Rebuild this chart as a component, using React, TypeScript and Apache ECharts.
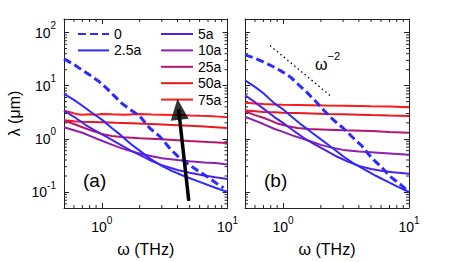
import React, { useEffect, useRef } from 'react';
import * as echarts from 'echarts';

const FONT = '"Liberation Sans", Arial, Helvetica, sans-serif';

const seriesNames = ['0', '2.5a', '5a', '10a', '25a', '50a', '75a'];
const seriesColors = ['#2b2bff', '#2b2bff', '#5020e8', '#8c20b0', '#b5156c', '#ea1620', '#ff1a1a'];

// ---------- panel (a) ----------
const omegaA0 = [0.5, 0.6, 0.7, 0.8, 0.95, 1.1, 1.25, 1.45, 1.7, 2.0, 2.4, 2.9, 3.5, 4.1, 5, 6, 7, 8.2, 9.3];
const lambdaA0 = [32, 25, 19.5, 16, 12, 8.8, 6.5, 4.6, 3.5, 2.7, 1.6, 1.1, 0.65, 0.45, 0.32, 0.24, 0.19, 0.145, 0.12];
const omegaA25 = [0.5, 0.6, 0.7, 0.85, 1.0, 1.2, 1.4, 1.7, 2.0, 2.4, 3.0, 3.6, 4.5, 6, 8, 10];
const lambdaA25 = [7.0, 5.4, 4.2, 3.0, 2.3, 1.6, 1.2, 0.8, 0.6, 0.43, 0.31, 0.25, 0.2, 0.155, 0.12, 0.1];
const omegaA5 = [0.5, 0.6, 0.75, 0.9, 1.1, 1.4, 1.7, 2, 2.5, 3, 4, 5, 6.5, 8, 10];
const lambdaA5 = [3.4, 2.6, 1.8, 1.4, 1.08, 0.78, 0.6, 0.5, 0.38, 0.32, 0.26, 0.23, 0.205, 0.19, 0.176];
const omegaA10 = [0.5, 0.6, 0.7, 0.85, 1, 1.2, 1.5, 2, 2.5, 3, 4, 5, 6.5, 8, 10];
const lambdaA10 = [1.65, 1.45, 1.3, 1.08, 0.92, 0.78, 0.64, 0.53, 0.47, 0.43, 0.4, 0.38, 0.36, 0.35, 0.33];
const omegaA25a = [0.5, 0.6, 0.7, 0.85, 1, 1.2, 1.5, 2, 3, 4, 5, 7, 10];
const lambdaA25a = [2.2, 1.9, 1.65, 1.4, 1.24, 1.13, 1.07, 1.03, 0.98, 0.94, 0.91, 0.87, 0.84];
const omegaA50 = [0.5, 0.6, 0.7, 0.85, 1, 1.3, 1.7, 2.2, 3, 4, 5, 6.5, 8, 10];
const lambdaA50 = [2.25, 2.15, 2.1, 2.08, 2.05, 2.0, 1.97, 1.92, 1.86, 1.8, 1.76, 1.7, 1.65, 1.6];
const omegaA75 = [0.5, 0.55, 0.62, 0.7, 0.8, 0.9, 1, 1.2, 1.5, 2, 2.5, 3, 4, 5, 6, 7, 8.5, 10];
const lambdaA75 = [3.4, 3.2, 2.95, 2.85, 2.9, 2.85, 2.95, 2.9, 2.85, 2.95, 2.88, 2.85, 2.8, 2.75, 2.72, 2.7, 2.62, 2.55];

// ---------- panel (b) ----------
const omegaB0 = [0.5, 0.6, 0.7, 0.85, 1.0, 1.15, 1.3, 1.55, 1.8, 2.1, 2.5, 3, 3.6, 4.2, 5, 6, 7, 8.5, 10];
const lambdaB0 = [38, 33, 28, 22.5, 18, 14.5, 11, 7.5, 5.2, 3.5, 2.3, 1.6, 1.05, 0.75, 0.45, 0.3, 0.2, 0.14, 0.1];
const omegaB25 = [0.5, 0.6, 0.7, 0.85, 1.0, 1.2, 1.4, 1.7, 2, 2.5, 3, 3.6, 4.5, 5.5, 7, 8.5, 10];
const lambdaB25 = [12.6, 9.5, 7.2, 4.7, 3.6, 2.5, 1.85, 1.3, 0.98, 0.66, 0.47, 0.35, 0.26, 0.2, 0.15, 0.12, 0.1];
const omegaB5 = [0.5, 0.6, 0.7, 0.85, 1, 1.2, 1.5, 1.8, 2.2, 2.7, 3.3, 4, 5, 6, 7.5, 10];
const lambdaB5 = [6.6, 4.9, 3.7, 2.6, 2.0, 1.45, 1.0, 0.78, 0.6, 0.46, 0.37, 0.31, 0.27, 0.25, 0.235, 0.22];
const omegaB10 = [0.5, 0.6, 0.7, 0.85, 1, 1.2, 1.5, 2, 2.5, 3, 4, 5, 7, 10];
const lambdaB10 = [2.6, 2.2, 1.9, 1.55, 1.35, 1.15, 0.97, 0.77, 0.67, 0.62, 0.58, 0.56, 0.53, 0.5];
const omegaB25a = [0.5, 0.6, 0.7, 0.8, 0.9, 1.1, 1.3, 1.6, 2, 3, 5, 7, 10];
const lambdaB25a = [3.3, 2.8, 2.5, 2.2, 1.95, 1.72, 1.6, 1.53, 1.5, 1.45, 1.4, 1.35, 1.3];
const omegaB50 = [0.5, 0.6, 0.7, 0.85, 1, 1.3, 1.7, 2.2, 3, 4, 5, 7, 10];
const lambdaB50 = [3.4, 3.3, 3.2, 3.15, 3.1, 3.05, 3.0, 2.95, 2.9, 2.85, 2.8, 2.75, 2.7];
const omegaB75 = [0.5, 0.6, 0.7, 0.85, 1, 1.3, 1.7, 2.2, 3, 4, 5, 7, 10];
const lambdaB75 = [4.8, 4.65, 4.55, 4.45, 4.4, 4.35, 4.3, 4.25, 4.2, 4.15, 4.1, 4.05, 3.95];

// guide line omega^-2 in (b), arrow in (a)
const guideOmega = [0.79, 2.37];
const guideLambda = [57, 6.5];
const arrowOmega = [4.92, 4.08];
const arrowLambda = [0.068, 3.6];

// axes
const xMin = 0.5, xMax = 10, yMin = 0.05, yMax = 180;
const xMinorTicks = [0.6, 0.7, 0.8, 0.9, 2, 3, 4, 5, 6, 7, 8, 9];
const yMinorTicks = [0.06, 0.07, 0.08, 0.09, 0.2, 0.3, 0.4, 0.5, 0.6, 0.7, 0.8, 0.9, 2, 3, 4, 5, 6, 7, 8, 9, 20, 30, 40, 50, 60, 70, 80, 90];

const panelA = [
  [omegaA0, lambdaA0], [omegaA25, lambdaA25], [omegaA5, lambdaA5], [omegaA10, lambdaA10],
  [omegaA25a, lambdaA25a], [omegaA50, lambdaA50], [omegaA75, lambdaA75],
];
const panelB = [
  [omegaB0, lambdaB0], [omegaB25, lambdaB25], [omegaB5, lambdaB5], [omegaB10, lambdaB10],
  [omegaB25a, lambdaB25a], [omegaB50, lambdaB50], [omegaB75, lambdaB75],
];

const zip = (xs: number[], ys: number[]) => xs.map((x, i) => [x, ys[i]]);

const powLabel = (v: number) => {
  const l = Math.log10(v);
  const r = Math.round(l);
  if (Math.abs(l - r) > 1e-6) return '';
  return `{b|10}{s|${r}}`;
};

const rich = {
  b: { fontSize: 14, lineHeight: 19, verticalAlign: 'bottom', fontFamily: FONT, color: '#000' },
  s: { fontSize: 10, lineHeight: 10, verticalAlign: 'top', fontFamily: FONT, color: '#000' },
};

const AX = '#222';

function xAxis(gridIndex: number, position: string, labels: boolean) {
  return {
    type: 'log', logBase: 10, min: xMin, max: xMax, gridIndex, position,
    axisLine: { show: true, onZero: false, lineStyle: { color: AX, width: 1 } },
    axisTick: { show: true, inside: true, length: 5, lineStyle: { color: AX, width: 1 } },
    minorTick: { show: false },
    splitLine: { show: false },
    axisLabel: labels
      ? { show: true, formatter: powLabel, rich, margin: 7, showMinLabel: false }
      : { show: false },
    name: labels ? 'ω (THz)' : '',
    nameLocation: 'middle',
    nameGap: 33,
    nameTextStyle: { fontSize: 16, fontFamily: FONT, color: '#000' },
  };
}

function yAxis(gridIndex: number, position: string, labels: boolean, title: boolean) {
  return {
    type: 'log', logBase: 10, min: yMin, max: yMax, gridIndex, position,
    axisLine: { show: true, onZero: false, lineStyle: { color: AX, width: 1 } },
    axisTick: { show: true, inside: true, length: 5, lineStyle: { color: AX, width: 1 } },
    minorTick: { show: false },
    splitLine: { show: false },
    axisLabel: labels
      ? { show: true, formatter: powLabel, rich, margin: 8, padding: [0, 0, 5, 0] }
      : { show: false },
    name: title ? 'λ (μm)' : '',
    nameLocation: 'middle',
    nameGap: 42,
    nameRotate: 90,
    nameTextStyle: { fontSize: 16, fontFamily: FONT, color: '#000' },
  };
}

function minorTicks(axisIndex: number) {
  return {
    type: 'custom',
    xAxisIndex: axisIndex,
    yAxisIndex: axisIndex,
    silent: true,
    z: 1,
    encode: { x: 0, y: 1 },
    data: [
      ...xMinorTicks.map((v) => [v, 1, 0]),
      ...yMinorTicks.map((v) => [1, v, 1]),
    ],
    renderItem: (params: any, api: any) => {
      const cs = params.coordSys;
      const kind = api.value(2);
      const p = api.coord([api.value(0), api.value(1)]);
      const st = { stroke: AX, lineWidth: 1 };
      const L = 3;
      if (kind === 0) {
        return {
          type: 'group',
          children: [
            { type: 'line', shape: { x1: p[0], y1: cs.y + cs.height, x2: p[0], y2: cs.y + cs.height - L }, style: st },
            { type: 'line', shape: { x1: p[0], y1: cs.y, x2: p[0], y2: cs.y + L }, style: st },
          ],
        };
      }
      return {
        type: 'group',
        children: [
          { type: 'line', shape: { x1: cs.x, y1: p[1], x2: cs.x + L, y2: p[1] }, style: st },
          { type: 'line', shape: { x1: cs.x + cs.width, y1: p[1], x2: cs.x + cs.width - L, y2: p[1] }, style: st },
        ],
      };
    },
  };
}

function lineSeries(panel: number[][][], axisIndex: number) {
  const out: any[] = [];
  for (let i = panel.length - 1; i >= 0; i--) {
    const [xs, ys] = panel[i];
    out.push({
      type: 'line',
      name: seriesNames[i],
      xAxisIndex: axisIndex,
      yAxisIndex: axisIndex,
      data: zip(xs, ys),
      symbol: 'none',
      showSymbol: false,
      clip: true,
      z: 3,
      lineStyle: {
        color: seriesColors[i],
        width: i === 0 ? 3 : 2,
        type: i === 0 ? [8, 4] : 'solid',
      },
      itemStyle: { color: seriesColors[i] },
    });
  }
  return out;
}

const legendText = { fontSize: 14, lineHeight: 14, fontFamily: FONT, color: '#000' };
const legendCommon = {
  orient: 'vertical', top: 27, padding: 0, itemHeight: 10, itemGap: 2.4,
  selectedMode: false, textStyle: legendText, itemStyle: { opacity: 0 },
};

export default function App() {
  const ref = useRef<HTMLDivElement>(null);
  useEffect(() => {
    if (!ref.current) return;
    const chart = echarts.init(ref.current, undefined, { renderer: 'svg' });
    const option: any = {
      animation: false,
      backgroundColor: '#fff',
      textStyle: { fontFamily: FONT },
      grid: [
        { left: 64, top: 19, width: 163.5, height: 189 },
        { left: 245, top: 19, width: 164, height: 189 },
      ],
      xAxis: [xAxis(0, 'bottom', true), xAxis(0, 'top', false), xAxis(1, 'bottom', true), xAxis(1, 'top', false)],
      yAxis: [yAxis(0, 'left', true, true), yAxis(0, 'right', false, false), yAxis(1, 'left', false, false), yAxis(1, 'right', false, false)],
      legend: [
        { ...legendCommon, data: ['0', '2.5a'], left: 77, itemWidth: 31 },
        { ...legendCommon, data: ['5a', '10a', '25a', '50a', '75a'], left: 160, itemWidth: 32 },
      ],
      series: [
        minorTicks(0),
        minorTicks(2),
        ...lineSeries(panelA, 0),
        ...lineSeries(panelB, 2),
        {
          type: 'line', name: 'guide', xAxisIndex: 2, yAxisIndex: 2,
          data: zip(guideOmega, guideLambda), symbol: 'none',
          lineStyle: { color: '#000', width: 1.3, type: [1.5, 3] }, z: 4,
        },
        {
          type: 'line', name: 'arrow', xAxisIndex: 0, yAxisIndex: 0,
          data: zip(arrowOmega, arrowLambda), symbol: 'none',
          lineStyle: { color: '#000', width: 3.5 }, z: 5,
        },
        {
          type: 'scatter', name: 'arrowhead', xAxisIndex: 0, yAxisIndex: 0,
          data: [[arrowOmega[1], arrowLambda[1]]],
          symbol: 'triangle', symbolSize: [18, 21], symbolRotate: 6,
          itemStyle: { color: '#000' }, z: 6, silent: true,
        },
      ],
      graphic: [
        { type: 'text', x: 83, y: 171, style: { text: '(a)', fontSize: 19, fontFamily: FONT, fill: '#000' } },
        { type: 'text', x: 264, y: 171, style: { text: '(b)', fontSize: 19, fontFamily: FONT, fill: '#000' } },
        {
          type: 'text', x: 315, y: 50,
          style: {
            text: '{w|ω}{s|−2}',
            rich: {
              w: { fontSize: 16, lineHeight: 22, verticalAlign: 'bottom', fontFamily: FONT, fill: '#000' },
              s: { fontSize: 11, lineHeight: 11, verticalAlign: 'top', fontFamily: FONT, fill: '#000' },
            },
          },
        },
      ],
    };
    chart.setOption(option);
    return () => chart.dispose();
  }, []);
  return <div ref={ref} style={{ position: 'absolute', left: 0, top: 0, width: 463, height: 262 }} />;
}
